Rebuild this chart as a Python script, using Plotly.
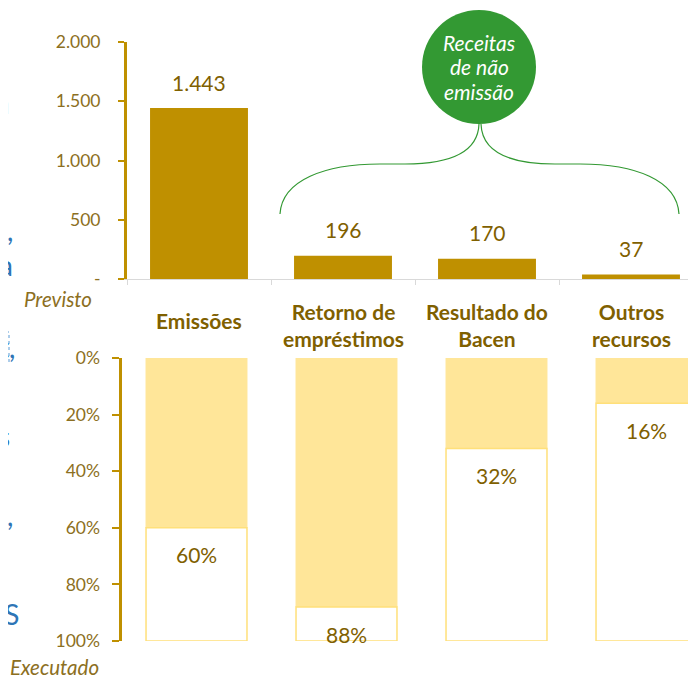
import plotly.graph_objects as go

W, H = 696, 678
OFF = 8  # margem do body da página

categorias = ["Emissões", "Retorno de empréstimos", "Resultado do Bacen", "Outros recursos"]
rotulos = ["Emissões", "Retorno de<br>empréstimos", "Resultado do<br>Bacen", "Outros<br>recursos"]
previsto = [1443, 196, 170, 37]
executado = [60, 88, 32, 16]
ticks_prev = [0, 500, 1000, 1500, 2000]
ticks_prev_txt = ["-", "500", "1.000", "1.500", "2.000"]
ticks_exec = [0, 20, 40, 60, 80, 100]
ticks_exec_txt = ["0%", "20%", "40%", "60%", "80%", "100%"]
circulo_txt = ["Receitas", "de não", "emissão"]

GOLD = "#BF9000"
LIGHT = "#FFE699"
EDGE = "#FFE07A"
TXT = "#7F6000"
TICK = "#8C6F22"
GREEN = "#339933"
FONT = "Lato"


def fx(p):
    return (p - OFF) / W


def fy(p):
    return 1 - (p - OFF) / H


def path(pts):
    out = []
    for cmd, coords in pts:
        out.append(cmd + " " + " ".join(f"{fx(x):.5f},{fy(y):.5f}" for x, y in coords))
    return " ".join(out)


fig = go.Figure()

fig.add_trace(go.Bar(x=categorias, y=previsto, width=0.68, marker=dict(color=GOLD, line=dict(width=0)),
                     xaxis="x", yaxis="y", hoverinfo="skip"))
fig.add_trace(go.Bar(x=categorias, y=executado, base=0, width=0.673,
                     marker=dict(color=LIGHT, line=dict(color=LIGHT, width=1)),
                     xaxis="x2", yaxis="y2", hoverinfo="skip"))
fig.add_trace(go.Bar(x=categorias, y=[100 - v for v in executado], base=executado, width=0.673,
                     marker=dict(color="white", line=dict(color=EDGE, width=1.5)),
                     xaxis="x2", yaxis="y2", hoverinfo="skip"))

annotations = []
for c, v in zip(categorias, previsto):
    annotations.append(dict(x=c, y=v, xref="x", yref="y", text=f"{v:,}".replace(",", "."),
                            showarrow=False, xanchor="center", yanchor="middle", yshift=26,
                            font=dict(size=21, color=TXT, family=FONT)))
for c, v in zip(categorias, executado):
    annotations.append(dict(x=c, y=v, xref="x2", yref="y2", text=f"{v}%",
                            showarrow=False, xanchor="center", yanchor="middle", yshift=-27,
                            font=dict(size=21, color=TXT, family=FONT)))
for c, r in zip(categorias, rotulos):
    yc = 324.5 if "<br>" in r else 320
    annotations.append(dict(x=c, y=fy(yc), xref="x", yref="paper", text=f"<b>{r}</b>",
                            showarrow=False, xanchor="center", yanchor="middle",
                            font=dict(size=21, color=TXT, family=FONT)))
for i, t in enumerate(circulo_txt):
    annotations.append(dict(x=fx(479), y=fy(42 + 25 * i), xref="paper", yref="paper", text=t,
                            showarrow=False, xanchor="center", yanchor="middle",
                            font=dict(size=21, color="white", family=FONT, style="italic")))

annotations += [
    dict(x=fx(58), y=fy(299), xref="paper", yref="paper", text="Previsto", showarrow=False,
         xanchor="center", yanchor="middle",
         font=dict(size=20.5, color=TICK, family=FONT, style="italic")),
    dict(x=fx(54), y=fy(667), xref="paper", yref="paper", text="Executado", showarrow=False,
         xanchor="center", yanchor="middle",
         font=dict(size=20.5, color=TICK, family=FONT, style="italic")),
]

# pedaços de texto do slide vizinho, cortados na borda
for txt, xr, yc, col in [("n", 12, 103, "#9DC3E6"), (",", 15, 230, "#2E75B6"), ("a", 15, 265, "#2E75B6"),
                         ("t,", 17, 347, "#2E75B6"), ("s", 12, 436, "#2E75B6"), (",", 15, 515, "#2E75B6"),
                         ("ES", 21, 614, "#2E75B6")]:
    annotations.append(dict(x=fx(xr), y=fy(yc), xref="paper", yref="paper", text=txt, showarrow=False,
                            xanchor="right", yanchor="middle", font=dict(size=28, color=col, family=FONT)))

shapes = [
    dict(type="path", xref="paper", yref="paper", fillcolor=GOLD, line=dict(width=0),
         path=path([("M", [(126, 41)]), ("L", [(134, 57), (118, 57)]), ("Z", [])])),
    dict(type="path", xref="paper", yref="paper", fillcolor=GOLD, line=dict(width=0),
         path=path([("M", [(121.5, 642)]), ("L", [(129.5, 626), (113.5, 626)]), ("Z", [])])),
    dict(type="circle", xref="paper", yref="paper", x0=fx(422), x1=fx(536), y0=fy(124), y1=fy(10),
         fillcolor=GREEN, line=dict(width=0), layer="below"),
    dict(type="path", xref="paper", yref="paper", line=dict(color=GREEN, width=1.2),
         path=path([("M", [(280, 214)]), ("C", [(282, 180), (325, 164), (380, 164)]),
                    ("L", [(405, 164)]), ("C", [(450, 164), (478, 152), (479, 124)])])),
    dict(type="path", xref="paper", yref="paper", line=dict(color=GREEN, width=1.2),
         path=path([("M", [(481, 124)]), ("C", [(482, 152), (510, 164), (555, 164)]),
                    ("L", [(580, 164)]), ("C", [(635, 164), (677, 180), (679, 214)])])),
    dict(type="rect", xref="paper", yref="paper", x0=fx(-20), x1=fx(9), y0=fy(363), y1=fy(332),
         line=dict(color="#5B9BD5", width=1, dash="dot")),
]

fig.update_layout(
    width=W, height=H, margin=dict(l=0, r=0, t=0, b=0, pad=0), autosize=False,
    paper_bgcolor="white", plot_bgcolor="rgba(0,0,0,0)",
    barmode="overlay", showlegend=False, separators=",.",
    font=dict(family=FONT, color=TICK),
    xaxis=dict(domain=[fx(127), 1], range=[-0.5, -0.5 + (W + OFF - 127) / 144], type="category",
               showline=True, linecolor="#D9D9D9", linewidth=1, ticks="outside", tickson="boundaries",
               ticklen=5, tickcolor="#D9D9D9", showticklabels=False, showgrid=False, anchor="y",
               automargin=False, fixedrange=True),
    yaxis=dict(domain=[fy(279), fy(42)], range=[0, 2000], tickvals=ticks_prev, ticktext=ticks_prev_txt,
               ticks="outside", ticklen=6, tickcolor=GOLD, tickwidth=1.5, showline=True, linecolor=GOLD,
               linewidth=3, showgrid=False, zeroline=False, anchor="x", ticklabelstandoff=14,
               automargin=False, tickfont=dict(size=17.5, color=TICK, family=FONT), fixedrange=True),
    xaxis2=dict(domain=[fx(121.5), 1], range=[-0.5, -0.5 + (W + OFF - 121.5) / 150], type="category",
                visible=False, anchor="y2", automargin=False, fixedrange=True),
    yaxis2=dict(domain=[fy(641), fy(358)], range=[100, 0], tickvals=ticks_exec, ticktext=ticks_exec_txt,
                ticks="outside", ticklen=7, tickcolor=GOLD, tickwidth=1.5, showline=True, linecolor=GOLD,
                linewidth=3, showgrid=False, zeroline=False, anchor="x2", ticklabelstandoff=8,
                automargin=False, tickfont=dict(size=17.5, color=TICK, family=FONT), fixedrange=True),
    annotations=annotations, shapes=shapes,
)

fig.write_html("out.html")
